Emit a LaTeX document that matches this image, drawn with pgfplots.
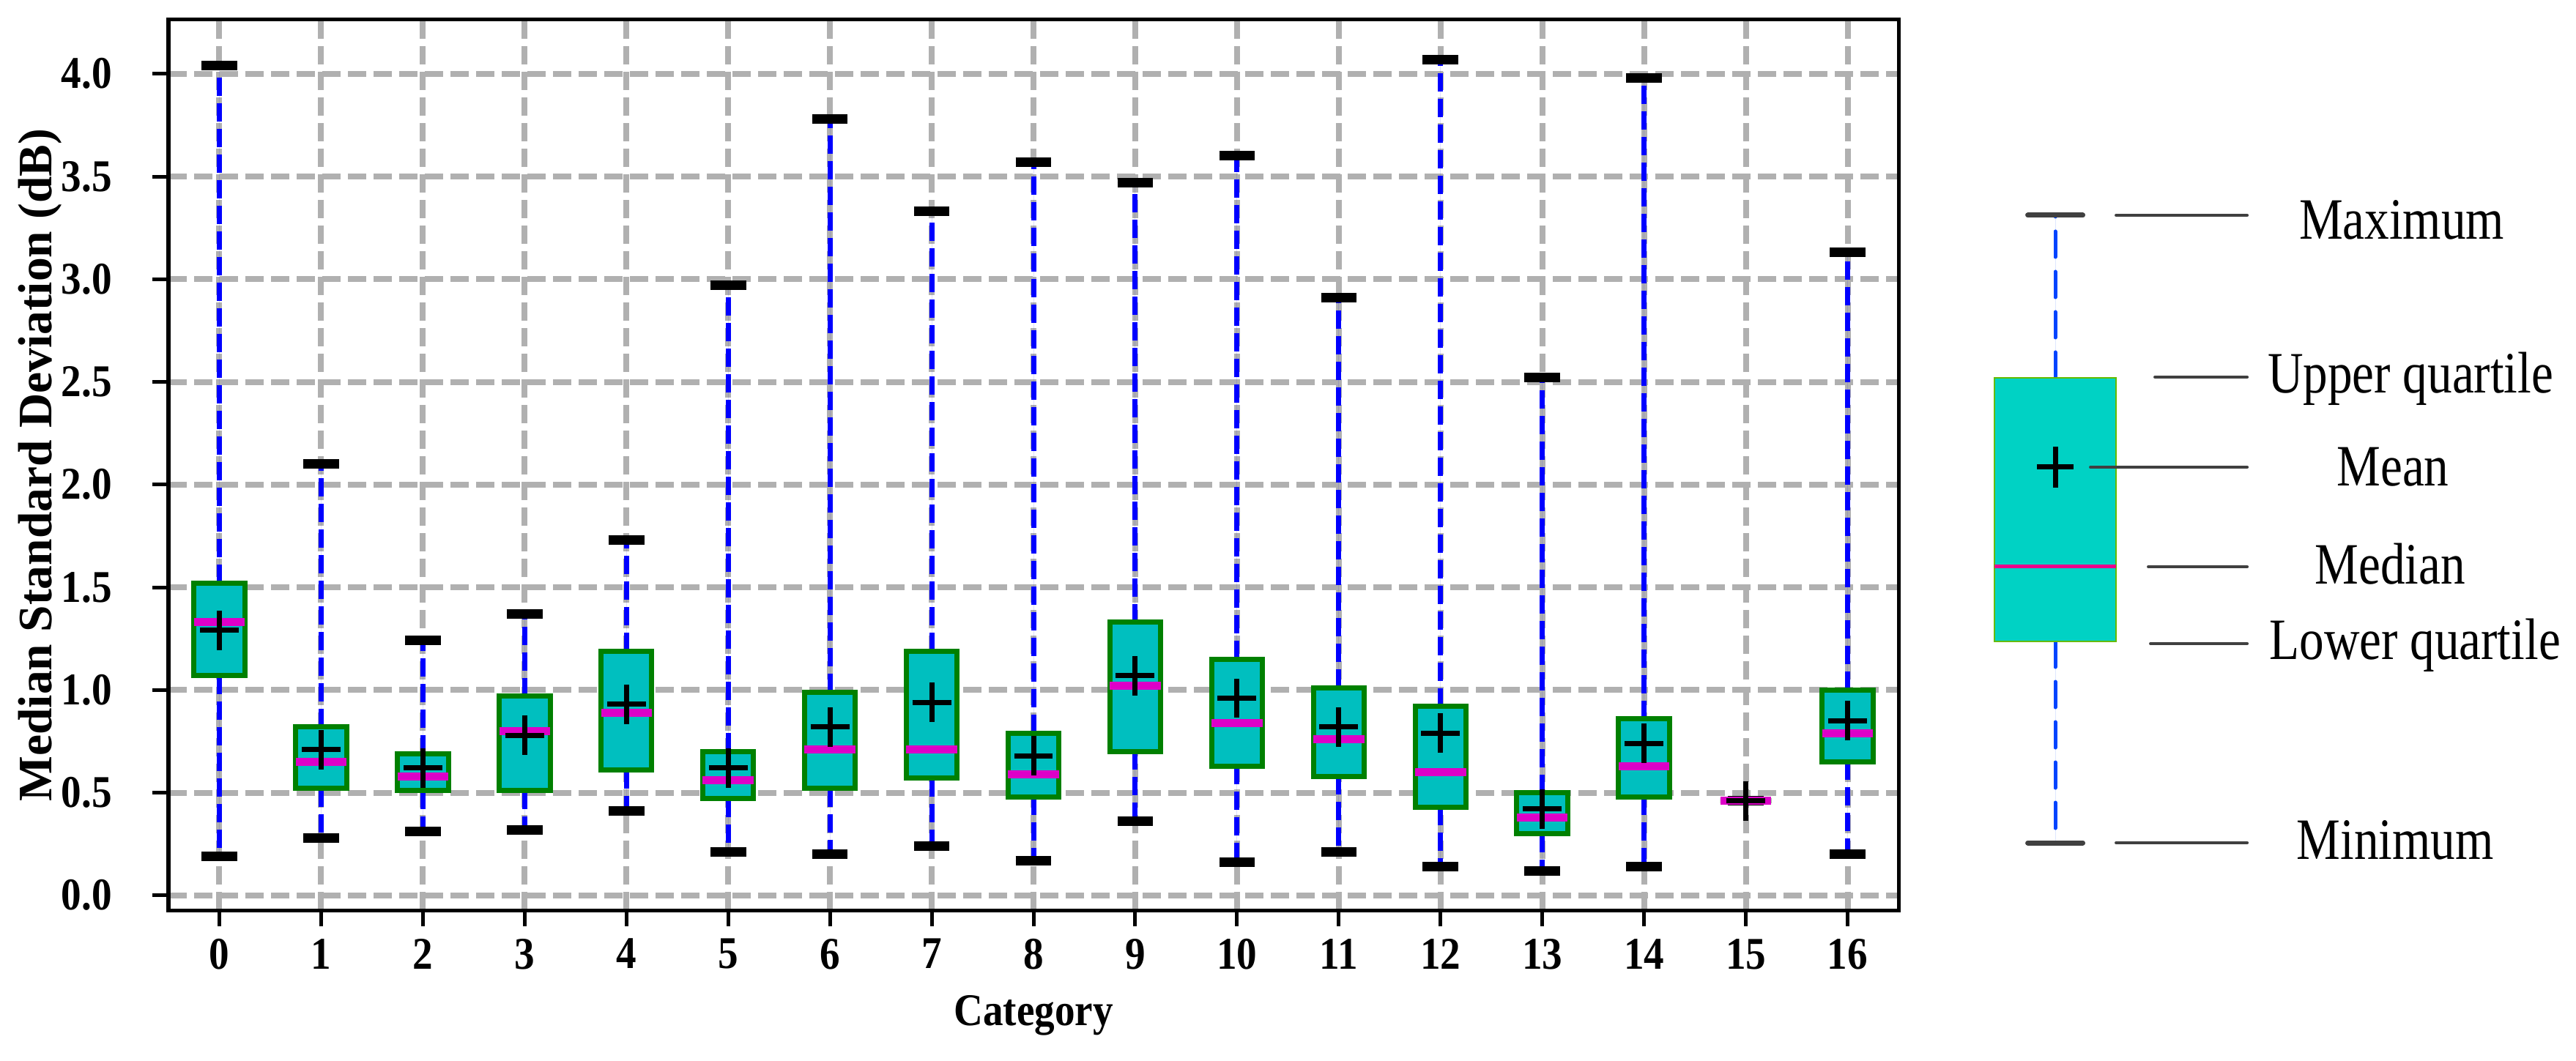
\documentclass[border=0pt]{standalone}
\usepackage{pgfplots}
\pgfplotsset{compat=1.18}
\usepgfplotslibrary{statistics}
\usepackage{fontspec}
\setmainfont{Liberation Serif}
\newfontfamily\axisfont[FakeStretch=0.89]{Liberation Serif}
\newfontfamily\keyfont[FakeStretch=0.84]{Liberation Serif}

\definecolor{boxcyan}{RGB}{0,191,191}
\definecolor{boxgreen}{RGB}{0,128,0}
\definecolor{medmag}{RGB}{221,0,200}
\definecolor{gridgray}{RGB}{176,176,176}
\definecolor{keycyan}{RGB}{0,210,196}
\definecolor{keyedge}{RGB}{102,187,0}
\definecolor{keyblue}{RGB}{0,68,255}
\definecolor{keygray}{RGB}{64,64,64}

% one box: position, lower whisker, lower quartile, median, upper quartile, upper whisker, mean
\newcommand{\bp}[7]{%
  \addplot[catbox, boxplot prepared={draw position=#1, lower whisker=#2,
    lower quartile=#3, median=#4, upper quartile=#5, upper whisker=#6,
    average=#7}] coordinates {};}

\pgfplotsset{
  catbox/.style={
    draw=boxgreen, fill=boxcyan, line width=1.4pt, solid,
    boxplot/draw direction=y,
    boxplot/box extend=0.5,
    boxplot/whisker extend=0.35,
    boxplot/every median/.style={draw=medmag, line width=2.2pt},
    boxplot/draw/average/.code={
      \pgfmathsetmacro\avlo{\pgfplotsboxplotvalue{average}-0.096}
      \pgfmathsetmacro\avhi{\pgfplotsboxplotvalue{average}+0.096}
      \draw[black, line width=1.4pt]
        (boxplot box cs:\pgfplotsboxplotvalue{average},0.119) --
        (boxplot box cs:\pgfplotsboxplotvalue{average},0.881);
      \draw[black, line width=1.4pt]
        (boxplot box cs:\avlo,0.5) -- (boxplot box cs:\avhi,0.5);
    },
    boxplot/draw/lower whisker/.code={
      \draw[blue, line width=1.4pt, dash pattern=on 5pt off 2pt]
        (boxplot box cs:\pgfplotsboxplotvalue{lower quartile},0.5) --
        (boxplot box cs:\pgfplotsboxplotvalue{lower whisker},0.5);
      \draw[black, line width=2.6pt]
        (boxplot whisker cs:\pgfplotsboxplotvalue{lower whisker},0) --
        (boxplot whisker cs:\pgfplotsboxplotvalue{lower whisker},1);
    },
    boxplot/draw/upper whisker/.code={
      \draw[blue, line width=1.4pt, dash pattern=on 5pt off 2pt]
        (boxplot box cs:\pgfplotsboxplotvalue{upper quartile},0.5) --
        (boxplot box cs:\pgfplotsboxplotvalue{upper whisker},0.5);
      \draw[black, line width=2.6pt]
        (boxplot whisker cs:\pgfplotsboxplotvalue{upper whisker},0) --
        (boxplot whisker cs:\pgfplotsboxplotvalue{upper whisker},1);
    },
  },
  keybox/.style={
    draw=keyedge, fill=keycyan, line width=0.4pt, solid,
    boxplot/draw direction=y,
    boxplot/box extend=166,
    boxplot/whisker extend=75,
    boxplot/every median/.style={draw=magenta, line width=1pt},
    boxplot/draw/average/.code={
      \draw[black, line width=1.4pt]
        (boxplot box cs:\pgfplotsboxplotvalue{average},0.5) ++(-5pt,0) -- ++(10pt,0)
        (boxplot box cs:\pgfplotsboxplotvalue{average},0.5) ++(0,-5.6pt) -- ++(0,11.2pt);
    },
    boxplot/draw/lower whisker/.code={
      \draw[keyblue, line width=1pt, line cap=round, dash pattern=on 7pt off 4pt]
        (boxplot box cs:\pgfplotsboxplotvalue{lower quartile},0.5) --
        (boxplot box cs:\pgfplotsboxplotvalue{lower whisker},0.5);
      \draw[keygray, line width=1.4pt, line cap=round]
        (boxplot whisker cs:\pgfplotsboxplotvalue{lower whisker},0) --
        (boxplot whisker cs:\pgfplotsboxplotvalue{lower whisker},1);
    },
    boxplot/draw/upper whisker/.code={
      \draw[keyblue, line width=1pt, line cap=round, dash pattern=on 7pt off 4pt]
        (boxplot box cs:\pgfplotsboxplotvalue{upper quartile},0.5) --
        (boxplot box cs:\pgfplotsboxplotvalue{upper whisker},0.5);
      \draw[keygray, line width=1.4pt, line cap=round]
        (boxplot whisker cs:\pgfplotsboxplotvalue{upper whisker},0) --
        (boxplot whisker cs:\pgfplotsboxplotvalue{upper whisker},1);
    },
  },
}

\begin{document}
\begin{tikzpicture}
\begin{axis}[
    at={(46pt,41pt)}, anchor=south west,
    scale only axis, width=472.4pt, height=243.2pt,
    xmin=-0.5, xmax=16.5, ymin=-0.072, ymax=4.263,
    xtick={0,...,16},
    ytick={0,0.5,1,1.5,2,2.5,3,3.5,4},
    tick pos=left, tick align=outside,
    major tick length=4.3pt,
    major tick style={black, line width=1pt},
    axis line style={line width=1pt},
    grid=major,
    grid style={gridgray, line width=1.6pt, dash pattern=on 5pt off 2pt},
    /pgf/number format/assume math mode=true,
    tick label style={font=\axisfont\bfseries\fontsize{12.4}{14}\selectfont},
    yticklabel style={xshift=-7.6pt, /pgf/number format/fixed,
      /pgf/number format/fixed zerofill, /pgf/number format/precision=1},
    xlabel={Category},
    ylabel={Median Standard Deviation (dB)},
    every axis x label/.style={at={(axis description cs:0.5,0)},
      yshift=-31.4pt, anchor=base,
      font=\axisfont\bfseries\fontsize{12.4}{14}\selectfont},
    every axis y label/.style={at={(axis description cs:-0.0741,0.5)},
      rotate=90, anchor=center,
      font=\bfseries\fontsize{13.1}{15}\selectfont},
]
\bp{0}{0.19}{1.07}{1.33}{1.52}{4.04}{1.29}
\bp{1}{0.28}{0.52}{0.65}{0.82}{2.10}{0.71}
\bp{2}{0.31}{0.51}{0.58}{0.69}{1.24}{0.62}
\bp{3}{0.32}{0.51}{0.80}{0.97}{1.37}{0.78}
\bp{4}{0.41}{0.61}{0.89}{1.19}{1.73}{0.93}
\bp{5}{0.21}{0.47}{0.56}{0.70}{2.97}{0.62}
\bp{6}{0.20}{0.52}{0.71}{0.99}{3.78}{0.82}
\bp{7}{0.24}{0.57}{0.71}{1.19}{3.33}{0.94}
\bp{8}{0.17}{0.48}{0.59}{0.79}{3.57}{0.68}
\bp{9}{0.36}{0.70}{1.02}{1.33}{3.47}{1.07}
\bp{10}{0.16}{0.63}{0.84}{1.15}{3.60}{0.96}
\bp{11}{0.21}{0.58}{0.76}{1.01}{2.91}{0.82}
\bp{12}{0.14}{0.43}{0.60}{0.92}{4.07}{0.79}
\bp{13}{0.12}{0.30}{0.38}{0.50}{2.52}{0.42}
\bp{14}{0.14}{0.48}{0.63}{0.86}{3.98}{0.74}
\bp{15}{0.46}{0.46}{0.46}{0.46}{0.46}{0.46}
\bp{16}{0.20}{0.65}{0.79}{1.00}{3.13}{0.85}
\end{axis}

% explanatory key, in pixel units of the whole picture
\begin{axis}[
    at={(0pt,0pt)}, anchor=south west,
    scale only axis, width=703.4pt, height=289.6pt,
    xmin=0, xmax=3517, ymin=0, ymax=1448,
    hide axis, clip=false,
]
\addplot[keybox, boxplot prepared={draw position=2806, lower whisker=297,
  lower quartile=572, median=674, upper quartile=932, upper whisker=1154,
  average=810}] coordinates {};
\draw[keygray, line width=0.8pt, line cap=round]
  (axis cs:2889,1154) -- (axis cs:3068,1154)
  (axis cs:2942,933) -- (axis cs:3068,933)
  (axis cs:2854,810) -- (axis cs:3068,810)
  (axis cs:2933,674) -- (axis cs:3068,674)
  (axis cs:2936,569) -- (axis cs:3068,569)
  (axis cs:2889,297) -- (axis cs:3068,297);
\begin{scope}[every node/.style={font=\keyfont\fontsize{16}{19}\selectfont, anchor=base, inner sep=0pt}]
\node at (axis cs:3279,1121) {Maximum};
\node at (axis cs:3291,911) {Upper quartile};
\node at (axis cs:3267,784) {Mean};
\node at (axis cs:3263,650) {Median};
\node at (axis cs:3297,547) {Lower quartile};
\node at (axis cs:3270,275) {Minimum};
\end{scope}
\end{axis}
\pgfresetboundingbox
\path[use as bounding box] (0,0) rectangle (703.4pt,289.6pt);
\end{tikzpicture}
\end{document}
